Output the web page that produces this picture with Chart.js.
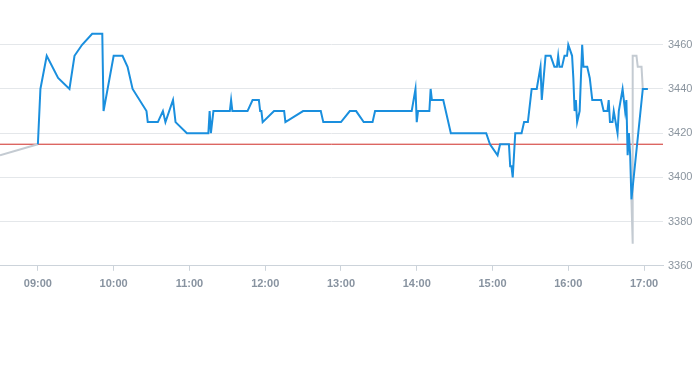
<!DOCTYPE html>
<html>
<head>
<meta charset="utf-8">
<script src="https://cdn.jsdelivr.net/npm/chart.js@4.4.1/dist/chart.umd.min.js"></script>
<style>
  html, body { margin: 0; padding: 0; background: #fff; }
  #wrap { width: 693px; height: 298px; position: relative; }
</style>
</head>
<body>
<div id="wrap"><canvas id="intraday"></canvas></div>
<script>
// regular session prices (time, price)
var sessionTimes = [
    "09:00","09:02","09:07","09:16","09:25","09:29","09:35","09:43","09:51","09:52",
    "10:00","10:07","10:11","10:15","10:26","10:27","10:35","10:39","10:41","10:47",
    "10:49","10:58","11:15","11:16","11:17","11:19","11:32","11:33","11:34","11:46",
    "11:50","11:55","11:56","11:57","11:58","12:07","12:15","12:16","12:30","12:44",
    "12:46","13:00","13:07","13:12","13:18","13:25","13:27","13:56","13:59","14:00",
    "14:01","14:10","14:11","14:12","14:21","14:27","14:55","14:58","15:04","15:06",
    "15:13","15:14","15:15","15:16","15:18","15:23","15:25","15:28","15:31","15:35",
    "15:38","15:39","15:42","15:46","15:49","15:51","15:52","15:53","15:55","15:57",
    "15:59","16:00","16:03","16:04","16:05","16:06","16:07","16:09","16:11","16:12",
    "16:15","16:17","16:19","16:26","16:28","16:31","16:32","16:33","16:35","16:36",
    "16:39","16:40","16:43","16:45","16:46","16:47","16:48","16:49","16:50","16:59",
    "17:03"
];
var sessionPrices = [
    3415,3440,3455,3445,3440,3455,3460,3465,3465,3430,
    3455,3455,3450,3440,3430,3425,3425,3430,3425,3435,
    3425,3420,3420,3430,3420,3430,3430,3435,3430,3430,
    3435,3435,3430,3430,3425,3430,3430,3425,3430,3430,
    3425,3425,3430,3430,3425,3425,3430,3430,3440,3425,
    3430,3430,3440,3435,3435,3420,3420,3415,3410,3415,
    3415,3405,3405,3400,3420,3420,3425,3425,3440,3440,
    3450,3435,3455,3455,3450,3450,3455,3450,3450,3455,
    3455,3460,3455,3445,3430,3435,3425,3430,3460,3450,
    3450,3445,3435,3435,3430,3430,3435,3425,3425,3430,
    3420,3430,3440,3430,3435,3410,3420,3410,3390,3440,
    3440
];

// extended hours (grey)
var preTimes = ["08:30","09:00"];
var prePrices = [3410, 3415];
var afterTimes = ["16:50","16:51","16:51","16:54","16:55","16:58","16:59","17:03"];
var afterPrices = [3390, 3370, 3455, 3455, 3450, 3450, 3440, 3440];

var prevClose = 3415;

var xStart = "08:30";
var xEnd = "17:15";
var xTickLabels = ["09:00","10:00","11:00","12:00","13:00","14:00","15:00","16:00","17:00"];
var yTicks = [3360, 3380, 3400, 3420, 3440, 3460];
var yMin = 3360, yMax = 3475;

function toMin(t) {
    var p = t.split(":");
    return (+p[0]) * 60 + (+p[1]);
}
function toLabel(m) {
    var h = Math.floor(m / 60), mm = m % 60;
    return (h < 10 ? "0" : "") + h + ":" + (mm < 10 ? "0" : "") + mm;
}
function pts(times, prices) {
    var out = [];
    for (var i = 0; i < times.length; i++) {
        out.push({ x: toMin(times[i]), y: prices[i] });
    }
    return out;
}

var grid = "#e4e7ea";
var axisCol = "#ccd3da";

new Chart(document.getElementById("intraday"), {
    type: "line",
    data: {
        datasets: [
            {
                data: pts(sessionTimes, sessionPrices),
                borderColor: "#1a8fde",
                borderWidth: 2,
                pointRadius: 0,
                tension: 0
            },
            {
                data: pts(afterTimes, afterPrices),
                borderColor: "#c4cbd2",
                borderWidth: 2,
                pointRadius: 0,
                tension: 0
            },
            {
                data: pts(preTimes, prePrices),
                borderColor: "#c4cbd2",
                borderWidth: 2,
                pointRadius: 0,
                tension: 0
            },
            {
                data: [{ x: toMin(xStart), y: prevClose }, { x: toMin(xEnd), y: prevClose }],
                borderColor: "#cf2b26",
                borderWidth: 1,
                pointRadius: 0
            }
        ]
    },
    options: {
        responsive: true,
        maintainAspectRatio: false,
        animation: false,
        layout: { padding: 0 },
        plugins: { legend: { display: false }, tooltip: { enabled: false } },
        scales: {
            x: {
                type: "linear",
                min: toMin(xStart),
                max: toMin(xEnd),
                afterBuildTicks: function (scale) {
                    scale.ticks = xTickLabels.map(function (l) { return { value: toMin(l) }; });
                },
                grid: { drawOnChartArea: false, drawTicks: true, tickLength: 5, color: axisCol },
                border: { color: axisCol },
                ticks: {
                    padding: 7,
                    maxRotation: 0,
                    color: "#8893a0",
                    font: { family: "Liberation Sans", size: 11, weight: "bold" },
                    callback: function (v) { return toLabel(v); }
                }
            },
            y: {
                position: "right",
                min: yMin,
                max: yMax,
                afterBuildTicks: function (scale) {
                    scale.ticks = yTicks.map(function (v) { return { value: v }; });
                },
                afterFit: function (scale) { scale.width = 30; },
                grid: { color: grid, drawTicks: false },
                border: { display: false },
                ticks: {
                    padding: 5,
                    color: "#8a949e",
                    font: { family: "Liberation Sans", size: 11 },
                    callback: function (v) { return String(v); }
                }
            }
        }
    }
});
</script>
</body>
</html>
